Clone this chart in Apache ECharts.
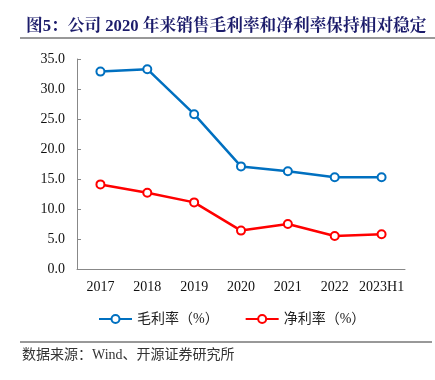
<!DOCTYPE html>
<html><head><meta charset="utf-8">
<script src="https://cdn.jsdelivr.net/npm/echarts@6/dist/echarts.min.js"></script>
<style>html,body{margin:0;padding:0;background:#fff}#c{width:435px;height:380px}</style>
</head><body><div id="c"></div>
<script>
const categories = ['2017','2018','2019','2020','2021','2022','2023H1'];
const grossMargin = [32.9, 33.3, 25.8, 17.1, 16.3, 15.3, 15.3];
const netMargin = [14.1, 12.7, 11.1, 6.4, 7.5, 5.5, 5.8];
const yTicks = {min: 0, max: 35, interval: 5};
const seriesNames = ['毛利率（%）', '净利率（%）'];

const chart = echarts.init(document.getElementById('c'), null, {renderer: 'canvas'});
const serif = '"Liberation Serif","Times New Roman",serif';
const cjk = '"Noto Sans CJK SC","Noto Sans",sans-serif';
chart.setOption({
  animation: false,
  backgroundColor: '#fff',
  title: {
    text: '图5：公司 2020 年来销售毛利率和净利率保持相对稳定',
    left: 21, top: 13,
    textStyle: {color: '#1c1c6b', fontSize: 16.7, fontWeight: 'bold', fontFamily: '"Liberation Serif","Noto Serif CJK SC","Noto Sans CJK SC",serif'}
  },
  graphic: [
    {type: 'line', shape: {x1: 20, y1: 38, x2: 435, y2: 38}, style: {stroke: '#333', lineWidth: 1}},
    {type: 'line', shape: {x1: 20, y1: 342, x2: 432, y2: 342}, style: {stroke: '#333', lineWidth: 1}},
    {type: 'text', left: 22, top: 348, style: {text: '数据来源：Wind、开源证券研究所', fill: '#333', font: '14px "Liberation Serif","Noto Sans CJK SC",serif'}}
  ],
  grid: {left: 77, right: 30, top: 59, bottom: 111, containLabel: false},
  legend: {
    data: seriesNames, top: 307, left: 93, itemGap: 26, itemWidth: 33, itemHeight: 10,
    textStyle: {fontSize: 14, color: '#222', fontFamily: '"Liberation Serif","Noto Sans CJK SC",serif'}
  },
  xAxis: {
    type: 'category', data: categories, boundaryGap: true,
    axisLine: {lineStyle: {color: '#888', width: 1}},
    axisTick: {inside: true, length: 4, lineStyle: {color: '#888'}},
    axisLabel: {color: '#111', fontSize: 14, fontFamily: serif, margin: 11, interval: 0}
  },
  yAxis: {
    type: 'value', min: yTicks.min, max: yTicks.max, interval: yTicks.interval,
    splitLine: {show: false},
    axisLine: {show: true, lineStyle: {color: '#888', width: 1}},
    axisTick: {show: true, inside: true, length: 4, lineStyle: {color: '#888'}},
    axisLabel: {color: '#111', fontSize: 14, fontFamily: serif, margin: 12, formatter: v => v.toFixed(1)}
  },
  series: [
    {name: seriesNames[0], type: 'line', data: grossMargin, color: '#0070C0',
     symbol: 'emptyCircle', symbolSize: 8, lineStyle: {width: 2.5}, itemStyle: {borderWidth: 2}},
    {name: seriesNames[1], type: 'line', data: netMargin, color: '#FF0000',
     symbol: 'emptyCircle', symbolSize: 8, lineStyle: {width: 2.5}, itemStyle: {borderWidth: 2}}
  ]
});
</script></body></html>
